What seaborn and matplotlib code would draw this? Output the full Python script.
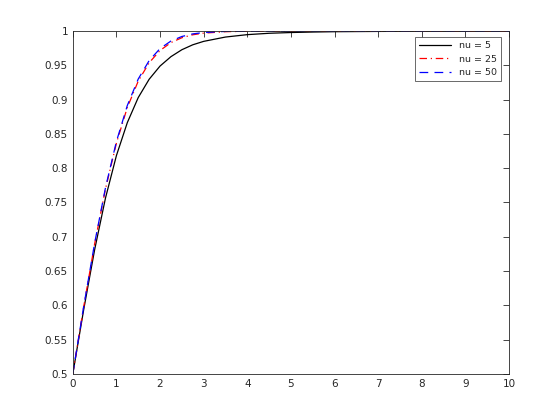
import numpy as np
import pandas as pd
import seaborn as sns
import matplotlib
matplotlib.use("Agg")
import matplotlib.pyplot as plt

# Values
x = [0, 0.25, 0.5, 0.75, 1.0, 1.25, 1.5, 1.75, 2.0, 2.25, 2.5, 2.75, 3.0,
     3.5, 4.0, 4.5, 5.0, 5.5, 6.0, 7.0, 8.0, 9.0, 10.0]
nu5 = [0.5, 0.5937, 0.6809, 0.7566, 0.8184, 0.8665, 0.9030, 0.9297, 0.9490,
       0.9627, 0.9728, 0.9800, 0.9850, 0.9913, 0.9948, 0.9968, 0.9979,
       0.9986, 0.9991, 0.9995, 0.9998, 0.9999, 0.9999]
nu25 = [0.5, 0.5977, 0.6893, 0.7699, 0.8366, 0.8886, 0.9270, 0.9538, 0.9717,
        0.9832, 0.9903, 0.9946, 0.9970, 0.9991, 0.9998, 0.9999, 1.0,
        1.0, 1.0, 1.0, 1.0, 1.0, 1.0]
nu50 = [0.5, 0.5982, 0.6904, 0.7717, 0.8389, 0.8915, 0.9301, 0.9569, 0.9745,
        0.9855, 0.9921, 0.9959, 0.9979, 0.9995, 0.9999, 1.0, 1.0,
        1.0, 1.0, 1.0, 1.0, 1.0, 1.0]

df = pd.DataFrame({"x": x, "nu = 5": nu5, "nu = 25": nu25, "nu = 50": nu50})

sns.set_style("white")
plt.rcParams['font.family'] = ['DejaVu Sans']

fig = plt.figure(figsize=(5.6, 4.2), dpi=100)
ax = fig.add_axes([0.13, 0.11, 0.779, 0.816])

sns.lineplot(data=df, x="x", y="nu = 5", ax=ax, color="black", lw=0.9,
             linestyle="-", label="nu = 5", sort=False)
sns.lineplot(data=df, x="x", y="nu = 25", ax=ax, color="red", lw=0.9,
             linestyle=(0, (6, 3, 1, 3)), label="nu = 25", sort=False)
sns.lineplot(data=df, x="x", y="nu = 50", ax=ax, color="blue", lw=0.9,
             linestyle=(0, (7, 5)), label="nu = 50", sort=False)

ax.set_xlim(0, 10)
ax.set_ylim(0.5, 1)
ax.set_xticks(np.arange(0, 11, 1))
ax.set_yticks(np.arange(0.5, 1.001, 0.05))
ax.set_yticklabels(["0.5", "0.55", "0.6", "0.65", "0.7", "0.75", "0.8",
                    "0.85", "0.9", "0.95", "1"])
ax.set_xlabel("")
ax.set_ylabel("")
ax.tick_params(direction="in", top=True, right=True, length=4, width=0.6,
               labelsize=7.5, labelcolor="#262626", colors="#262626")
for s in ax.spines.values():
    s.set_color("#262626")
    s.set_linewidth(0.6)

leg = ax.legend(loc="upper right", fontsize=6.8, frameon=True, fancybox=False,
                edgecolor="#262626", handlelength=3.4, handletextpad=0.8,
                borderpad=0.45, labelspacing=0.45, borderaxespad=0,
                bbox_to_anchor=(0.982, 0.982))
leg.get_frame().set_linewidth(0.6)

fig.savefig("out.png", dpi=100)
